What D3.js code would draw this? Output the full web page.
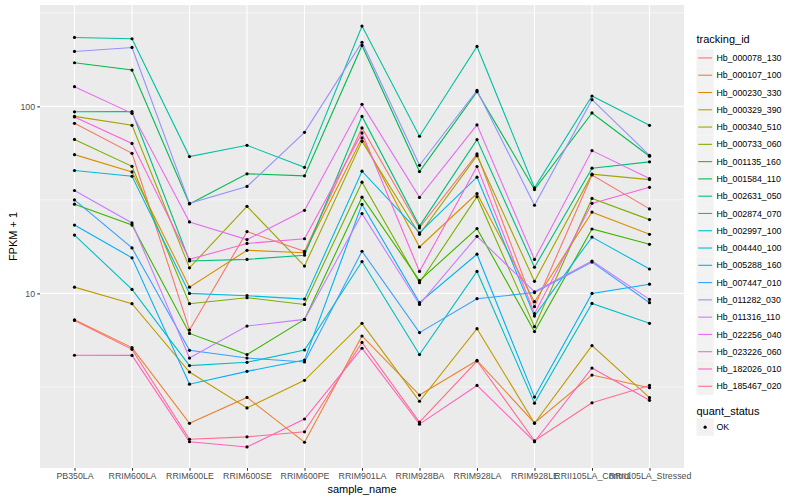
<!DOCTYPE html>
<html><head><meta charset="utf-8">
<script src="https://cdn.jsdelivr.net/npm/d3@7"></script>
<style>
body{margin:0;background:#fff}
text{font-family:"Liberation Sans",Arial,Helvetica,sans-serif}
</style>
</head><body>
<svg id="chart" width="800" height="500"></svg>
<script>
// ---- data ----
const samples = ["PB350LA","RRIM600LA","RRIM600LE","RRIM600SE","RRIM600PE","RRIM901LA","RRIM928BA","RRIM928LA","RRIM928LE","RRII105LA_Control","RRII105LA_Stressed"];
const trackingIds = ["Hb_000078_130","Hb_000107_100","Hb_000230_330","Hb_000329_390","Hb_000340_510","Hb_000733_060","Hb_001135_160","Hb_001584_110","Hb_002631_050","Hb_002874_070","Hb_002997_100","Hb_004440_100","Hb_005288_160","Hb_007447_010","Hb_011282_030","Hb_011316_110","Hb_022256_040","Hb_023226_060","Hb_182026_010","Hb_185467_020"];
const hueColors = ["#F8766D","#EA8331","#D89000","#C09B00","#A3A500","#7CAE00","#39B600","#00BB4E","#00BF7D","#00C1A3","#00BFC4","#00BAE0","#00B0F6","#35A2FF","#9590FF","#C77CFF","#E76BF3","#FA62DB","#FF62BC","#FF6C91"];
const yTickValues = [10, 100];
const quantStatus = ["OK"];

const hb_000078_130 = [81.2, 56.1, 6.37, 21.4, 16.8, 76.7, 22.4, 55.7, 8.49, 43.0, 28.3];
const hb_000107_100 = [7.22, 5.13, 2.02, 2.78, 1.60, 5.92, 2.86, 4.38, 2.03, 3.66, 3.13];
const hb_000230_330 = [55.2, 44.6, 10.8, 17.0, 16.5, 67.8, 17.7, 34.2, 9.03, 27.2, 20.7];
const hb_000329_390 = [10.8, 8.81, 3.80, 2.44, 3.43, 6.92, 2.65, 6.48, 2.02, 5.26, 2.77];
const hb_000340_510 = [88.4, 79.2, 13.7, 29.2, 14.0, 65.0, 20.7, 54.5, 11.6, 43.4, 40.6];
const hb_000733_060 = [66.6, 47.8, 8.81, 9.48, 8.73, 39.3, 11.4, 32.9, 6.64, 32.2, 24.8];
const hb_001135_160 = [30.0, 23.2, 6.11, 4.71, 7.26, 32.7, 11.7, 22.2, 6.25, 22.1, 18.3];
const hb_001584_110 = [171.1, 156.4, 30.1, 43.6, 42.5, 211.7, 44.8, 119.8, 35.9, 92.2, 54.1];
const hb_002631_050 = [93.5, 93.7, 14.9, 15.2, 16.0, 88.4, 22.9, 66.4, 13.8, 46.7, 50.5];
const hb_002874_070 = [233.6, 229.9, 53.9, 61.9, 47.2, 268.8, 69.2, 209.1, 36.7, 113.6, 79.2];
const hb_002997_100 = [20.5, 10.5, 4.11, 4.28, 4.98, 14.8, 4.71, 13.1, 2.59, 8.84, 6.92];
const hb_004440_100 = [45.4, 42.3, 10.0, 9.72, 9.32, 45.0, 21.1, 41.8, 7.56, 20.0, 13.5];
const hb_005288_160 = [23.2, 15.5, 3.27, 3.83, 4.40, 29.9, 8.92, 16.2, 2.79, 10.0, 11.2];
const hb_007447_010 = [31.6, 17.5, 4.96, 4.51, 4.30, 16.8, 6.17, 9.37, 10.1, 14.7, 8.92];
const hb_011282_030 = [196.6, 206.5, 30.3, 37.3, 72.6, 220.2, 48.4, 121.7, 29.6, 108.6, 54.7];
const hb_011316_110 = [35.5, 23.8, 4.51, 6.69, 7.26, 26.7, 8.73, 20.2, 10.2, 14.9, 9.29];
const hb_022256_040 = [127.4, 91.8, 24.1, 19.4, 27.8, 102.5, 32.6, 79.6, 15.2, 58.0, 41.1];
const hb_023226_060 = [87.8, 63.4, 15.2, 18.5, 19.6, 72.1, 13.1, 47.7, 7.79, 30.3, 36.9];
const hb_182026_010 = [4.67, 4.66, 1.61, 1.51, 2.13, 5.09, 2.00, 3.22, 1.61, 3.99, 2.68];
const hb_185467_020 = [7.17, 5.02, 1.66, 1.71, 1.82, 5.47, 2.05, 4.35, 1.63, 2.60, 3.22];

const seriesValues = [hb_000078_130, hb_000107_100, hb_000230_330, hb_000329_390, hb_000340_510, hb_000733_060, hb_001135_160, hb_001584_110, hb_002631_050, hb_002874_070, hb_002997_100, hb_004440_100, hb_005288_160, hb_007447_010, hb_011282_030, hb_011316_110, hb_022256_040, hb_023226_060, hb_182026_010, hb_185467_020];

// ---- build table ----
const series = trackingIds.map((id, i) => ({
  id, color: hueColors[i],
  points: samples.map((s, j) => ({sample: s, value: seriesValues[i][j]}))
}));
const allVals = seriesValues.flat();

// ---- layout ----
const svg = d3.select("#chart");
const P = {left: 40, right: 684, top: 5, bottom: 468};

const x = d3.scalePoint().domain(samples).range([P.left, P.right]).padding(0.6);
const lo = Math.log10(d3.min(allVals)), hi = Math.log10(d3.max(allVals));
const pad = (hi - lo) * 0.05;
const y = d3.scaleLog().domain([Math.pow(10, lo - pad), Math.pow(10, hi + pad)]).range([P.bottom, P.top]);

// panel background
svg.append("rect").attr("x", P.left).attr("y", P.top)
  .attr("width", P.right - P.left).attr("height", P.bottom - P.top).attr("fill", "#EBEBEB");

const [d0, d1] = y.domain();
const minorY = [Math.pow(10,0.5), Math.pow(10,1.5), Math.pow(10,2.5), Math.pow(10,3.5)].filter(v => v >= d0 && v <= d1);
const majorY = [1, 10, 100, 1000].filter(v => v >= d0 && v <= d1);
const grid = svg.append("g");
grid.selectAll(".ymin").data(minorY).enter().append("line")
  .attr("x1", P.left).attr("x2", P.right).attr("y1", d => y(d)).attr("y2", d => y(d))
  .attr("stroke", "#fff").attr("stroke-width", 0.55);
grid.selectAll(".ymaj").data(majorY).enter().append("line")
  .attr("x1", P.left).attr("x2", P.right).attr("y1", d => y(d)).attr("y2", d => y(d))
  .attr("stroke", "#fff").attr("stroke-width", 1.1);
grid.selectAll(".xmaj").data(samples).enter().append("line")
  .attr("y1", P.top).attr("y2", P.bottom).attr("x1", d => x(d)).attr("x2", d => x(d))
  .attr("stroke", "#fff").attr("stroke-width", 1.1);

// lines
const line = d3.line().x(d => x(d.sample)).y(d => y(d.value));
svg.append("g").selectAll("path").data(series).enter().append("path")
  .attr("d", d => line(d.points)).attr("fill", "none")
  .attr("stroke", d => d.color).attr("stroke-width", 1.1);

// points
const pts = svg.append("g");
series.forEach(s => {
  pts.selectAll(null).data(s.points).enter().append("circle")
    .attr("cx", d => x(d.sample)).attr("cy", d => y(d.value)).attr("r", 1.6).attr("fill", "#000");
});

// axes
const yAxis = svg.append("g").attr("transform", `translate(${P.left},0)`)
  .call(d3.axisLeft(y).tickValues(yTickValues).tickFormat(d3.format("d")).tickSize(2.75).tickPadding(2.2));
const xAxis = svg.append("g").attr("transform", `translate(0,${P.bottom})`)
  .call(d3.axisBottom(x).tickSize(2.75).tickPadding(2.2));
[yAxis, xAxis].forEach(a => {
  a.select(".domain").remove();
  a.selectAll(".tick line").attr("stroke", "#333333").attr("stroke-width", 1.07);
  a.selectAll(".tick text").attr("fill", "#4D4D4D").style("font-size", "8.8px")
    .style("font-family", '"Liberation Sans",Arial,sans-serif');
});

// axis titles
svg.append("text").attr("transform", `translate(17,${(P.top + P.bottom) / 2}) rotate(-90)`)
  .attr("text-anchor", "middle").style("font-size", "11px").attr("fill", "#000").text("FPKM + 1");
svg.append("text").attr("x", (P.left + P.right) / 2).attr("y", 493)
  .attr("text-anchor", "middle").style("font-size", "11px").attr("fill", "#000").text("sample_name");

// legend: tracking_id
const lg = svg.append("g");
const keyX = 696.5, keyY0 = 49.3, keyH = 17.28;
lg.append("text").attr("x", keyX).attr("y", 43).style("font-size", "11px").attr("fill", "#000").text("tracking_id");
series.forEach((s, i) => {
  const yy = keyY0 + i * keyH;
  lg.append("rect").attr("x", keyX).attr("y", yy).attr("width", keyH).attr("height", keyH).attr("fill", "#F2F2F2");
  lg.append("line").attr("x1", keyX + 1.7).attr("x2", keyX + keyH - 1.7)
    .attr("y1", yy + keyH / 2).attr("y2", yy + keyH / 2).attr("stroke", s.color).attr("stroke-width", 1.1);
  lg.append("text").attr("x", keyX + keyH + 2.6).attr("y", yy + keyH / 2 + 3.1)
    .style("font-size", "8.8px").attr("fill", "#000").text(s.id);
});

// legend: quant_status
const qY = 415;
lg.append("text").attr("x", keyX).attr("y", qY).style("font-size", "11px").attr("fill", "#000").text("quant_status");
quantStatus.forEach((q, i) => {
  const yy = qY + 3.5 + i * keyH;
  lg.append("rect").attr("x", keyX).attr("y", yy).attr("width", keyH).attr("height", keyH).attr("fill", "#F2F2F2");
  lg.append("circle").attr("cx", keyX + keyH / 2).attr("cy", yy + keyH / 2).attr("r", 1.6).attr("fill", "#000");
  lg.append("text").attr("x", keyX + keyH + 2.6).attr("y", yy + keyH / 2 + 3.1)
    .style("font-size", "8.8px").attr("fill", "#000").text(q);
});
</script>
</body></html>
